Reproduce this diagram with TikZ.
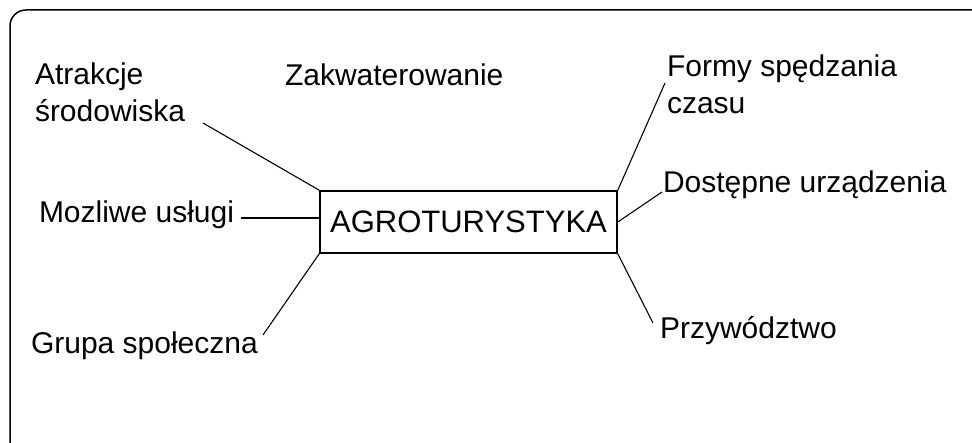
\documentclass[tikz,border=0pt]{standalone}
\usepackage{fontspec}
\setmainfont{Liberation Sans}
\begin{document}
\begin{tikzpicture}[x=1pt,y=-1pt,
  lbl/.style={inner sep=0pt,outer sep=0pt,font=\fontsize{30}{37}\selectfont,align=left,text=black},
  conn/.style={draw=black,line width=1.1pt},
  frame/.style={draw=black,line width=1.5pt,rounded corners=16pt}]
\useasboundingbox (0,0) rectangle (972,443);
\begin{scope}
\clip (0,0) rectangle (972,443);
\draw[frame] (10,10) rectangle (990,462);
\end{scope}
% central box
\node[draw=black,line width=1.6pt,minimum width=297pt,minimum height=62pt,inner sep=0pt,
      font=\fontsize{31}{37}\selectfont] (box) at (468.5,222) {AGROTURYSTYKA};
% labels
\node[lbl,anchor=north west] (atr) at (35,63) {Atrakcje\\środowiska};
\node[lbl,anchor=base west] (zak) at (285,86) {Zakwaterowanie};
\node[lbl,anchor=base west] (moz) at (39,223) {Mozliwe usługi};
\node[lbl,anchor=base west] (gru) at (31,354) {Grupa społeczna};
\node[lbl,anchor=north west] (for) at (667,55) {Formy spędzania\\czasu};
\node[lbl,anchor=base west] (dos) at (663,193) {Dostępne urządzenia};
\node[lbl,anchor=base west] (prz) at (660,339) {Przywództwo};
% free ends
\coordinate (cAtr) at (203,123);
\coordinate (cMoz) at (241,218);
\coordinate (cGru) at (263,335);
\coordinate (cFor) at (665,83);
\coordinate (cDos) at (662,192);
\coordinate (cPrz) at (653,323);
% connectors
\draw[conn] (cAtr) -- (box.north west);
\draw[conn] (cMoz) -- (cMoz -| box.west);
\draw[conn] (cGru) -- (box.south west);
\draw[conn] (cFor) -- (box.north east);
\draw[conn] (cDos) -- (box.east);
\draw[conn] (cPrz) -- (box.south east);
\end{tikzpicture}
\end{document}
